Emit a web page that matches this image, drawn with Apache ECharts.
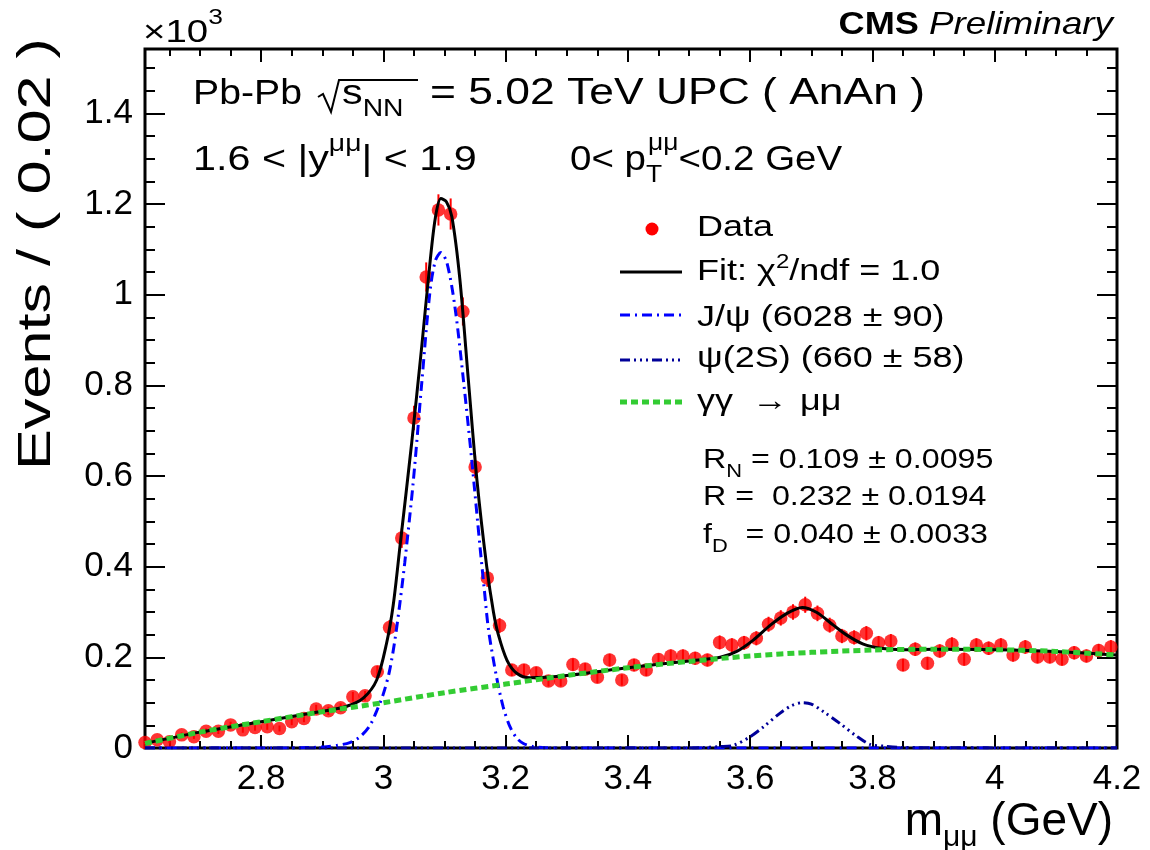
<!DOCTYPE html>
<html><head><meta charset="utf-8">
<script src="https://cdn.jsdelivr.net/npm/echarts@6/dist/echarts.min.js"></script>
<style>html,body{margin:0;padding:0;background:#fff}#c{width:1150px;height:850px}</style>
</head><body><div id="c"></div>
<script>
// ---------- data ----------
const massBins = [2.61,2.63,2.65,2.67,2.69,2.71,2.73,2.75,2.77,2.79,2.81,2.83,2.85,2.87,2.89,2.91,2.93,2.95,2.97,2.99,
3.01,3.03,3.05,3.07,3.09,3.11,3.13,3.15,3.17,3.19,3.21,3.23,3.25,3.27,3.29,3.31,3.33,3.35,3.37,3.39,
3.41,3.43,3.45,3.47,3.49,3.51,3.53,3.55,3.57,3.59,3.61,3.63,3.65,3.67,3.69,3.71,3.73,3.75,3.77,3.79,
3.81,3.83,3.85,3.87,3.89,3.91,3.93,3.95,3.97,3.99,4.01,4.03,4.05,4.07,4.09,4.11,4.13,4.15,4.17,4.19];
const eventsK = [0.012,0.018,0.014,0.029,0.025,0.037,0.037,0.051,0.040,0.045,0.047,0.043,0.058,0.065,0.086,0.082,0.089,0.113,0.115,0.168,
0.266,0.463,0.728,1.039,1.187,1.178,0.963,0.620,0.375,0.270,0.172,0.172,0.166,0.148,0.148,0.184,0.174,0.156,0.194,0.150,
0.183,0.172,0.195,0.203,0.203,0.198,0.194,0.233,0.227,0.232,0.242,0.273,0.287,0.300,0.316,0.297,0.271,0.247,0.244,0.253,
0.232,0.236,0.183,0.218,0.187,0.214,0.229,0.196,0.227,0.220,0.227,0.205,0.223,0.201,0.201,0.196,0.210,0.203,0.215,0.223];

const fitX = [2.61,2.70,2.80,2.90,2.94,2.967,2.989,3.005,3.016,3.027,3.046,3.063,3.076,3.085,3.094,3.103,3.112,3.125,3.139,3.153,3.169,3.180,3.188,3.202,3.218,3.240,3.30,3.40,3.50,3.551,3.578,3.605,3.633,3.660,3.685,3.709,3.736,3.758,3.785,3.813,3.85,3.90,4.00,4.10,4.20];
const fitY = [0.010,0.035,0.058,0.081,0.092,0.110,0.150,0.230,0.315,0.444,0.670,0.890,1.068,1.170,1.212,1.205,1.172,1.035,0.811,0.591,0.400,0.300,0.250,0.194,0.165,0.155,0.160,0.177,0.192,0.200,0.213,0.238,0.271,0.297,0.310,0.299,0.271,0.249,0.229,0.220,0.217,0.218,0.217,0.213,0.205];

const jpsiX = [2.61,2.85,2.88,2.907,2.925,2.945,2.962,2.978,2.99,3.0,3.01,3.019,3.027,3.035,3.049,3.063,3.076,3.085,3.094,3.104,3.117,3.131,3.145,3.158,3.165,3.172,3.185,3.196,3.207,3.218,3.229,3.245,3.26,3.30,4.2];
const jpsiY = [0,0,0.001,0.003,0.006,0.012,0.025,0.050,0.085,0.120,0.170,0.240,0.320,0.410,0.590,0.810,1.005,1.075,1.093,1.070,0.973,0.810,0.628,0.444,0.350,0.260,0.157,0.090,0.047,0.022,0.010,0.003,0.001,0,0];

const psi2sX = [2.61,3.50,3.52,3.55,3.573,3.600,3.622,3.649,3.667,3.685,3.700,3.720,3.747,3.774,3.796,3.82,3.85,4.2];
const psi2sY = [0,0,0.001,0.003,0.006,0.025,0.047,0.077,0.093,0.100,0.097,0.080,0.054,0.026,0.008,0.004,0.001,0];

const bkgX = [2.61,2.70,2.80,2.90,3.00,3.10,3.20,3.30,3.40,3.50,3.60,3.70,3.80,3.90,4.00,4.10,4.20];
const bkgY = [0.010,0.035,0.058,0.080,0.100,0.122,0.141,0.160,0.177,0.191,0.203,0.211,0.216,0.218,0.217,0.213,0.205];

const xMajorTicks = [2.8,3.0,3.2,3.4,3.6,3.8,4.0,4.2];
const xMinorTicks = [2.65,2.7,2.75,2.85,2.9,2.95,3.05,3.1,3.15,3.25,3.3,3.35,3.45,3.5,3.55,3.65,3.7,3.75,3.85,3.9,3.95,4.05,4.1,4.15];
const yMajorTicks = [0,0.2,0.4,0.6,0.8,1.0,1.2,1.4];
const yMinorTicks = [0.05,0.1,0.15,0.25,0.3,0.35,0.45,0.5,0.55,0.65,0.7,0.75,0.85,0.9,0.95,1.05,1.1,1.15,1.25,1.3,1.35,1.45,1.5];

// ---------- helpers ----------
const FF = '"Liberation Sans", Arial, "DejaVu Sans", sans-serif';
const mctx = document.createElement('canvas').getContext('2d');
function fnt(p){ return (p.it?'italic ':'')+(p.b?'bold ':'')+p.fs+'px '+FF; }
function tw(t,p){ mctx.font=fnt(p); return mctx.measureText(t).width*(p.sx||1); }
function piece(x, base, t, p){
  return {type:'text', x:x, y: base - 0.35*p.fs, scaleX:p.sx||1, silent:true, z:100,
    style:{text:t, font:fnt(p), fill:p.color||'#000', textAlign:'left', textVerticalAlign:'middle', align:'left', verticalAlign:'middle'}};
}
function run(x, base, parts, sx){
  let cx = x; const out = [];
  for (const q0 of parts){ const q = Object.assign({sx:sx||1}, q0); cx += (q.dx||0); out.push(piece(cx, base+(q.dy||0), q.t, q)); cx += tw(q.t,q); }
  return out;
}
function hline(x1,x2,y,color,w,dash){
  return {type:'line', silent:true, z:100, shape:{x1:x1,y1:y,x2:x2,y2:y}, style:{stroke:color,lineWidth:w,lineDash:dash||null}};
}

const g = [];
// top-left exponent
g.push(...run(143, 44, [{t:'×10',fs:32},{t:'3',fs:22,dy:-18}], 1.2));
// CMS Preliminary
{ const pI={fs:32,it:true,sx:1.15}, pB={fs:32,b:true,sx:1.13};
  const xP = 1113 - tw('Preliminary',pI); const xC = xP - 10 - tw('CMS',pB);
  g.push(piece(xC,36,'CMS',pB)); g.push(piece(xP,36,'Preliminary',pI)); }
// header line 1
g.push(...run(193,107,[{t:'Pb-Pb',fs:35}],1.12));
g.push({type:'polyline', silent:true, z:100, shape:{points:[[318,97],[323,94],[331,112],[339,80],[418,80]]}, style:{stroke:'#000',lineWidth:2,fill:null}});
g.push(...run(342,107,[{t:'s',fs:35},{t:'NN',fs:24,dy:11}],1.18));
{ const t='= 5.02 TeV UPC ( AnAn )'; const w0 = tw(t,{fs:36}); const p={fs:36,sx:(925-430)/w0};
  g.push(piece(430,107,t,p)); }
// header line 2
g.push(...run(193,173,[{t:'1.6 < |y',fs:35},{t:'μμ',fs:24,dy:-20},{t:'| < 1.9',fs:35}],1.18));
{ const p={fs:35,sx:1.1}, ps={fs:24,sx:1.1}; const x1 = 570 + tw('0< p',p);
  g.push(piece(570,173,'0< p',p));
  g.push(piece(x1,184,'T',ps));
  g.push(piece(x1+2,152,'μμ',ps));
  g.push(piece(x1+2+tw('μμ',ps),173,'<0.2 GeV',p)); }
// legend
const LS = 1.2;
g.push({type:'circle', silent:true, z:100, shape:{cx:652,cy:229,r:6.5}, style:{fill:'#ff0000'}});
g.push(...run(697,238,[{t:'Data',fs:30}],LS));
g.push(hline(620,682,272,'#000',3));
g.push(...run(697,282,[{t:'Fit: χ',fs:30},{t:'2',fs:20,dy:-13},{t:'/ndf = 1.0',fs:30}],LS));
g.push(hline(620,682,315,'#0000ff',3,[10,5,2,5]));
g.push(...run(697,328,[{t:'J/ψ (6028 ± 90)',fs:30}],LS));
g.push(hline(620,682,360,'#000099',3,[10,4,2,4,2,4,2,4]));
g.push(...run(697,369,[{t:'ψ(2S) (660 ± 58)',fs:30}],LS));
g.push(hline(620,682,402,'#33cc33',5,[7,4]));
g.push(...run(697,412,[{t:'γγ',fs:30}],LS));
g.push(...run(752,412,[{t:'→',fs:30}],LS));
g.push(...run(800,412,[{t:'μμ',fs:30}],LS));
// fit results
const RS = 1.15;
g.push(...run(703,470,[{t:'R',fs:28},{t:'N',fs:19,dy:8},{t:' = 0.109 ± 0.0095',fs:28}],RS));
g.push(...run(703,507,[{t:'R =  0.232 ± 0.0194',fs:28}],RS));
g.push(...run(703,545,[{t:'f',fs:28},{t:'D',fs:19,dy:8},{t:'  = 0.040 ± 0.0033',fs:28}],RS));
// axis titles
{ const p={fs:47}; const t='Events / ( 0.02 )'; const w0 = tw(t,p);
  g.push({type:'text', x:37, y:38, rotation:Math.PI/2, scaleX:(470-38)/w0, silent:true, z:100,
    style:{text:t, font:fnt(p), fill:'#000', textAlign:'right', textVerticalAlign:'middle', align:'right', verticalAlign:'middle'}}); }
{ const pm={fs:46}, ps={fs:30}; const w = tw('m',pm)+tw('μμ',ps)+tw(' (GeV)',pm);
  g.push(...run(1113-w,838,[{t:'m',fs:46},{t:'μμ',fs:30,dy:10},{t:' (GeV)',fs:46}])); }

// ---------- chart ----------
const fmt = v => String(+(+v).toFixed(2));
function xAx(pos, ticks, len, labels){
  return {type:'value', min:2.61, max:4.2, position:pos, splitLine:{show:false},
    axisLine:{show:false,onZero:false},
    axisTick:{show:true,inside:true,length:len,customValues:ticks,lineStyle:{color:'#000',width:2}},
    axisLabel: labels ? {show:true,customValues:ticks,formatter:fmt,fontSize:35,fontFamily:FF,color:'#000',margin:14} : {show:false}};
}
function yAx(pos, ticks, len, labels){
  return {type:'value', min:0, max:1.542, position:pos, splitLine:{show:false},
    axisLine:{show:false,onZero:false},
    axisTick:{show:true,inside:true,length:len,customValues:ticks,lineStyle:{color:'#000',width:2}},
    axisLabel: labels ? {show:true,customValues:ticks,formatter:fmt,fontSize:35,fontFamily:FF,color:'#000',margin:12} : {show:false}};
}
const pairs = (xs,ys) => xs.map((x,i)=>[x,ys[i]]);
const dataPts = massBins.map((x,i)=>[x, eventsK[i], Math.sqrt(eventsK[i]*1000)/1000]);

const chart = echarts.init(document.getElementById('c'), null, {renderer:'canvas'});
chart.setOption({
  animation:false,
  backgroundColor:'#fff',
  grid:{left:145,right:33,top:49,bottom:102,show:true,borderColor:'#000',borderWidth:3,backgroundColor:'transparent'},
  xAxis:[xAx('bottom',xMajorTicks,13,true), xAx('bottom',xMinorTicks,7,false), xAx('top',xMajorTicks,13,false), xAx('top',xMinorTicks,7,false)],
  yAxis:[yAx('left',yMajorTicks,20,true), yAx('left',yMinorTicks,10,false), yAx('right',yMajorTicks,20,false), yAx('right',yMinorTicks,10,false)],
  series:[
    {type:'custom', name:'err', silent:true, z:1, data:dataPts,
     renderItem:(params,api)=>{ const x=api.value(0), y=api.value(1), e=api.value(2);
       const a=api.coord([x,y-e]), b=api.coord([x,y+e]);
       return {type:'line', shape:{x1:a[0],y1:a[1],x2:b[0],y2:b[1]}, style:{stroke:'#ff0000',lineWidth:2}}; }},
    {type:'scatter', name:'Data', silent:true, z:2, symbol:'circle', symbolSize:13.5, itemStyle:{color:'#ff0000'}, data:dataPts.map(d=>[d[0],d[1]])},
    {type:'line', name:'Fit', silent:true, z:3, smooth:0.3, showSymbol:false, data:pairs(fitX,fitY), lineStyle:{color:'#000',width:3}},
    {type:'line', name:'J/psi', silent:true, z:4, smooth:0.3, showSymbol:false, data:pairs(jpsiX,jpsiY), lineStyle:{color:'#0000ff',width:3,type:[10,5,2,5]}},
    {type:'line', name:'psi(2S)', silent:true, z:4, smooth:0.3, showSymbol:false, data:pairs(psi2sX,psi2sY), lineStyle:{color:'#000099',width:3,type:[10,4,2,4,2,4,2,4]}},
    {type:'line', name:'gg->mumu', silent:true, z:5, smooth:0.3, showSymbol:false, data:pairs(bkgX,bkgY), lineStyle:{color:'#33cc33',width:5,type:[7,4]}}
  ],
  graphic: g
});
</script></body></html>
